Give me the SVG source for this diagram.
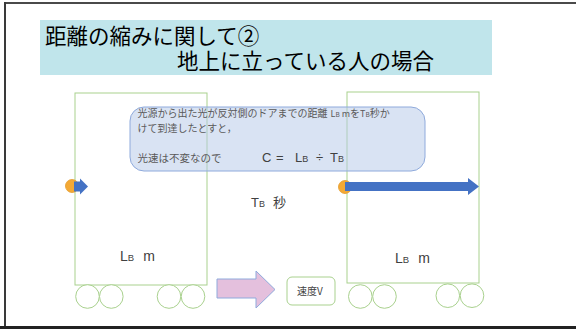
<svg xmlns="http://www.w3.org/2000/svg" width="576" height="329" viewBox="0 0 576 329">
<style>
.car{fill:none;stroke:#a9d18e;stroke-width:1}
.whl{fill:#fff;stroke:#a9d18e;stroke-width:1}
.t{font-family:"Liberation Sans","Noto Sans CJK JP",sans-serif;fill:#404040}
.j{font-family:"Noto Sans CJK JP",sans-serif;fill:#595959}
</style>
<rect x="0" y="0" width="576" height="329" fill="#fff"/>
<rect x="4" y="2" width="572" height="2" fill="#4a4a4a"/>
<rect x="4" y="2" width="2" height="327" fill="#3a3a3a"/>
<rect x="0" y="326" width="576" height="3" fill="#222"/>

<g id="title">
<rect x="40" y="20" width="452" height="55" fill="#c0e5eb"/>
<text class="j" x="45" y="44" font-size="21.5" style="fill:#000">距離の縮みに関して②</text>
<text class="j" x="177" y="69" font-size="21.5" style="fill:#000">地上に立っている人の場合</text>
</g>

<g id="car-left">
<rect class="car" x="75" y="93" width="132" height="192"/>
<circle class="whl" cx="87.5" cy="296.5" r="11.8"/>
<circle class="whl" cx="111.3" cy="296.5" r="11.8"/>
<circle class="whl" cx="169" cy="296.5" r="11.8"/>
<circle class="whl" cx="193" cy="296.5" r="11.8"/>
<text class="t" x="120" y="261" font-size="14">L<tspan font-size="9.5">B</tspan><tspan dx="9">m</tspan></text>
</g>

<g id="car-right">
<rect class="car" x="347" y="92" width="132" height="191"/>
<circle class="whl" cx="360.3" cy="296.5" r="11.8"/>
<circle class="whl" cx="384.5" cy="296.5" r="11.8"/>
<circle class="whl" cx="447.8" cy="295.7" r="11.8"/>
<circle class="whl" cx="472" cy="295.7" r="11.8"/>
<text class="t" x="395" y="263" font-size="14">L<tspan font-size="9.5">B</tspan><tspan dx="9">m</tspan></text>
</g>

<g id="bubble">
<rect x="130" y="107" width="295" height="64" rx="14" fill="#b4c7e7" fill-opacity="0.5" stroke="#8faadc" stroke-width="1"/>
<text class="j" x="137.5" y="117" font-size="10">光源から出た光が反対側のドアまでの距離<tspan dx="3" font-size="9">L</tspan><tspan font-size="6.5">B</tspan><tspan font-size="9"> m</tspan>を<tspan font-size="9">T</tspan><tspan font-size="6.5">B</tspan>秒か</text>
<text class="j" x="137.5" y="132" font-size="10">けて到達したとすと，</text>
<text class="j" x="137.5" y="162" font-size="10.5">光速は不変なので</text>
<text class="t" x="262" y="162" font-size="13">C</text>
<text class="t" x="276" y="162" font-size="13">=</text>
<text class="t" x="295" y="162" font-size="13">L<tspan font-size="9">B</tspan></text>
<text class="t" x="316" y="162" font-size="13">÷</text>
<text class="t" x="330" y="162" font-size="13">T<tspan font-size="9">B</tspan></text>
</g>

<g id="light-left">
<circle cx="72" cy="186" r="6.5" fill="#f4a935" stroke="#e39a2a" stroke-width="0.8"/>
<polygon points="74,181.5 80,181.5 80,178.5 88,186.5 80,194.5 80,191.5 74,191.5" fill="#4472c4"/>
</g>

<g id="light-right">
<circle cx="345" cy="187" r="6.5" fill="#f4a935" stroke="#e39a2a" stroke-width="0.8"/>
<polygon points="345,182 468,182 468,178 479,186.5 468,195 468,191 345,191" fill="#4472c4"/>
</g>

<g id="time">
<text class="t" x="251" y="207" font-size="13">T<tspan font-size="9">B</tspan><tspan dx="8" font-family="Noto Sans CJK JP">秒</tspan></text>
</g>

<g id="move-arrow">
<polygon points="217,279 256,279 256,271 275,289.5 256,308 256,298 217,298" fill="#e4c0dd" stroke="#8faadc" stroke-width="1"/>
</g>

<g id="speed">
<rect x="287" y="277" width="48" height="28" rx="5" fill="#fff" stroke="#a9d18e" stroke-width="1"/>
<text class="j" x="297" y="295" font-size="10" style="fill:#404040">速度V</text>
</g>
</svg>
